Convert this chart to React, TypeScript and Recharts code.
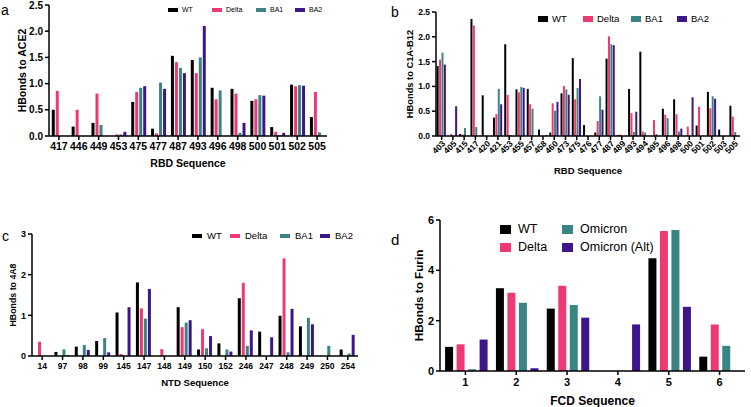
import React from "react";
import { BarChart, Bar, XAxis, YAxis } from "recharts";

const FONT = "'Liberation Sans', Arial, Helvetica, sans-serif";
const C_WT = "#000000";
const C_DELTA = "#EE3A72";
const C_TEAL = "#3A8484";
const C_PURPLE = "#3C168A";

// panel a: hbonds to ACE2
const aSeq = ["417", "446", "449", "453", "475", "477", "487", "493", "496", "498", "500", "501", "502", "505"];
const aWT = [0.5, 0.18, 0.25, 0, 0.65, 0.14, 1.53, 1.45, 0.92, 0.9, 0.67, 0.17, 0.98, 0.36];
const aDelta = [0.86, 0.5, 0.81, 0.03, 0.84, 0.05, 1.41, 1.2, 0.7, 0.81, 0.7, 0.08, 0.95, 0.84];
const aBA1 = [0, 0, 0.21, 0.03, 0.92, 1.02, 1.3, 1.5, 0.87, 0.06, 0.78, 0.02, 0.97, 0.07];
const aBA2 = [0, 0, 0, 0.08, 0.95, 0.9, 1.2, 2.1, 0, 0.25, 0.77, 0.06, 0.96, 0];

// panel b: hbonds to C1A-B12
const bSeq = ["403", "405", "415", "417", "420", "421", "453", "455", "457", "458", "460", "473", "475", "476", "477", "487", "489", "493", "494", "495", "496", "498", "500", "501", "502", "503", "505"];
const bWT = [1.41, 0, 0.04, 2.36, 0.82, 0.37, 1.85, 0.94, 0.95, 0.13, 0.07, 0.86, 1.57, 0.22, 0.07, 1.56, 0.02, 0.95, 1.7, 0, 0.55, 0.74, 0, 0.21, 0.89, 0.13, 0.61];
const bDelta = [1.54, 0.04, 0.03, 2.23, 0, 0.44, 0.83, 0.88, 0.64, 0, 0.66, 1.01, 0.74, 0, 0.3, 2.01, 0.03, 0.46, 0.09, 0.32, 0.43, 0.44, 0.19, 0.59, 0.56, 0, 0.39];
const bBA1 = [1.68, 0, 0.16, 0.18, 0, 0.95, 0.02, 0.99, 0.55, 0, 0.51, 0.94, 0.97, 0, 0.8, 1.85, 0, 0.08, 0.07, 0.04, 0.36, 0.09, 0, 0, 0.8, 0, 0.08];
const bBA2 = [1.44, 0.6, 0, 0, 0, 0.64, 0, 0.97, 0, 0.02, 0.69, 0.83, 1.15, 0, 0.53, 1.83, 0, 0.49, 0, 0, 0, 0.15, 0.78, 0, 0.75, 0, 0];

// panel c: hbonds to 4A8
const cSeq = ["14", "97", "98", "99", "145", "147", "148", "149", "150", "152", "246", "247", "248", "249", "250", "254"];
const cWT = [0, 0.1, 0.23, 0.37, 1.07, 1.81, 0, 1.2, 0.16, 0.31, 1.42, 0.6, 0.99, 0.73, 0, 0.16];
const cDelta = [0.35, 0, 0, 0, 0.05, 1.17, 0.17, 0.71, 0.66, 0, 1.8, 0, 2.4, 0, 0, 0];
const cBA1 = [0, 0.16, 0.27, 0.44, 0, 0.92, 0, 0.82, 0.19, 0.16, 0.25, 0, 0.09, 0.94, 0.25, 0.06];
const cBA2 = [0, 0.02, 0.15, 0.09, 1.2, 1.65, 0, 0.88, 0.49, 0.11, 0.63, 0.46, 1.16, 0.78, 0, 0.52];

// panel d: hbonds to furin
const dSeq = ["1", "2", "3", "4", "5", "6"];
const dWT = [0.96, 3.29, 2.48, 0, 4.48, 0.57];
const dDelta = [1.06, 3.11, 3.39, 0, 5.56, 1.85];
const dOmicron = [0.07, 2.71, 2.62, 0, 5.6, 1.0];
const dOmicronAlt = [1.25, 0.11, 2.12, 1.85, 2.55, 0];

const variantNames = ["WT", "Delta", "BA1", "BA2"];
const furinNames = ["WT", "Delta", "Omicron", "Omicron (Alt)"];
const colors = [C_WT, C_DELTA, C_TEAL, C_PURPLE];

const toRows = (seq: string[], series: number[][]) =>
  seq.map((s, i) => {
    const row: any = { seq: s };
    series.forEach((vals, k) => (row["s" + k] = vals[i]));
    return row;
  });

function Panel(p: any) {
  const rows = toRows(p.seq, p.series);
  return (
    <div style={{ position: "absolute", left: p.left, top: p.top }}>
      <BarChart
        width={p.width}
        height={p.height}
        data={rows}
        margin={{ top: p.mt, right: p.mr, bottom: 0, left: 0 }}
        barCategoryGap={p.catGap}
        barGap={p.barGap}
      >
        <XAxis
          dataKey="seq"
          interval={0}
          height={p.xh}
          stroke="#000"
          strokeWidth={1.5}
          tickSize={4}
          tickMargin={p.rotate ? 0 : 3}
          angle={p.rotate ? -45 : 0}
          tick={{
            fill: "#000",
            fontSize: p.xTickSize,
            fontWeight: "bold",
            fontFamily: FONT,
            textAnchor: p.rotate ? "end" : "middle",
          }}
          label={{
            value: p.xLabel,
            position: "insideBottom",
            offset: p.xLabelOffset,
            style: { fontSize: p.xLabelSize, fontWeight: "bold", fontFamily: FONT, fill: "#000" },
          }}
        />
        <YAxis
          width={p.yw}
          domain={p.domain}
          ticks={p.ticks}
          tickFormatter={p.fmt}
          stroke="#000"
          strokeWidth={1.5}
          tickSize={4}
          tickMargin={2}
          tick={{ fill: "#000", fontSize: p.yTickSize, fontWeight: "bold", fontFamily: FONT }}
          label={{
            value: p.yLabel,
            angle: -90,
            position: "insideLeft",
            offset: p.yLabelOffset,
            style: {
              textAnchor: "middle",
              fontSize: p.yLabelSize,
              fontWeight: "bold",
              fontFamily: FONT,
              fill: "#000",
            },
          }}
        />
        {p.series.map((_: number[], k: number) => (
          <Bar key={k} dataKey={"s" + k} fill={colors[k]} isAnimationActive={false} />
        ))}
      </BarChart>
    </div>
  );
}

function Legend(p: any) {
  return (
    <>
      {p.items.map((it: any, i: number) => (
        <div
          key={i}
          style={{
            position: "absolute",
            left: it.x,
            top: it.y,
            display: "flex",
            alignItems: "center",
            fontFamily: FONT,
            fontSize: p.fontSize,
            color: "#000",
            whiteSpace: "nowrap",
            lineHeight: 1,
          }}
        >
          <span
            style={{
              display: "inline-block",
              width: p.mw,
              height: p.mh,
              background: it.color,
              marginRight: p.gap,
            }}
          />
          {it.name}
        </div>
      ))}
    </>
  );
}

const panelLetter = (t: string, x: number, y: number, size: number) => (
  <div style={{ position: "absolute", left: x, top: y, fontFamily: FONT, fontSize: size, lineHeight: 1, color: "#000" }}>
    {t}
  </div>
);

export default function App() {
  const f1 = (v: number) => v.toFixed(1);
  return (
    <div style={{ position: "absolute", left: 0, top: 0, width: 751, height: 407, background: "#fff", overflow: "hidden" }}>
      {panelLetter("a", 1, 3, 14)}
      {panelLetter("b", 391, 5, 14)}
      {panelLetter("c", 2, 229, 14)}
      {panelLetter("d", 391, 232, 15)}

      <Panel
        left={0} top={0} width={340} height={175} mt={5} mr={13} yw={49} xh={39}
        seq={aSeq} series={[aWT, aDelta, aBA1, aBA2]}
        catGap="14%" barGap={1}
        domain={[0, 2.5]} ticks={[0, 0.5, 1, 1.5, 2, 2.5]} fmt={f1}
        xTickSize={10.5} yTickSize={10} xLabel="RBD Sequence" xLabelSize={10.5} xLabelOffset={8}
        yLabel="HBonds to ACE2" yLabelSize={10.5} yLabelOffset={22}
      />
      <Legend
        fontSize={7} mw={10} mh={4} gap={4}
        items={variantNames.map((n, i) => ({ name: n, color: colors[i], x: [168, 212, 256, 295][i], y: 6 }))}
      />

      <Panel
        left={375} top={0} width={370} height={180} mt={12} mr={5} yw={61} xh={44}
        seq={bSeq} series={[bWT, bDelta, bBA1, bBA2]}
        catGap="6%" barGap={0.4} rotate
        domain={[0, 2.5]} ticks={[0, 0.5, 1, 1.5, 2, 2.5]} fmt={f1}
        xTickSize={8.5} yTickSize={8.5} xLabel="RBD Sequence" xLabelSize={9.5} xLabelOffset={6}
        yLabel="HBonds to C1A-B12" yLabelSize={9.3} yLabelOffset={35}
      />
      <Legend
        fontSize={9.5} mw={10} mh={6} gap={4}
        items={variantNames.map((n, i) => ({ name: n, color: colors[i], x: [538, 583, 631, 677][i], y: 14 }))}
      />

      <Panel
        left={0} top={200} width={365} height={190} mt={34} mr={7} yw={32} xh={34}
        seq={cSeq} series={[cWT, cDelta, cBA1, cBA2]}
        catGap="10%" barGap={1}
        domain={[0, 3]} ticks={[0, 1, 2, 3]} fmt={(v: number) => String(v)}
        xTickSize={8.5} yTickSize={9} xLabel="NTD Sequence" xLabelSize={9.6} xLabelOffset={4}
        yLabel="HBonds to 4A8" yLabelSize={8.8} yLabelOffset={13}
      />
      <Legend
        fontSize={9.5} mw={10} mh={4} gap={5}
        items={variantNames.map((n, i) => ({ name: n, color: colors[i], x: [192, 230, 280, 320][i], y: 231 }))}
      />

      <Panel
        left={375} top={200} width={375} height={207} mt={20} mr={5} yw={65} xh={36}
        seq={dSeq} series={[dWT, dDelta, dOmicron, dOmicronAlt]}
        catGap="10%" barGap={3.5}
        domain={[0, 6]} ticks={[0, 2, 4, 6]} fmt={(v: number) => String(v)}
        xTickSize={11} yTickSize={11} xLabel="FCD Sequence" xLabelSize={12} xLabelOffset={2}
        yLabel="HBonds to Furin" yLabelSize={11.7} yLabelOffset={44}
      />
      <Legend
        fontSize={12.5} mw={11} mh={9} gap={7}
        items={furinNames.map((n, i) => ({
          name: n,
          color: colors[i],
          x: [500, 500, 562, 562][i],
          y: [223, 241, 223, 241][i],
        }))}
      />
    </div>
  );
}
